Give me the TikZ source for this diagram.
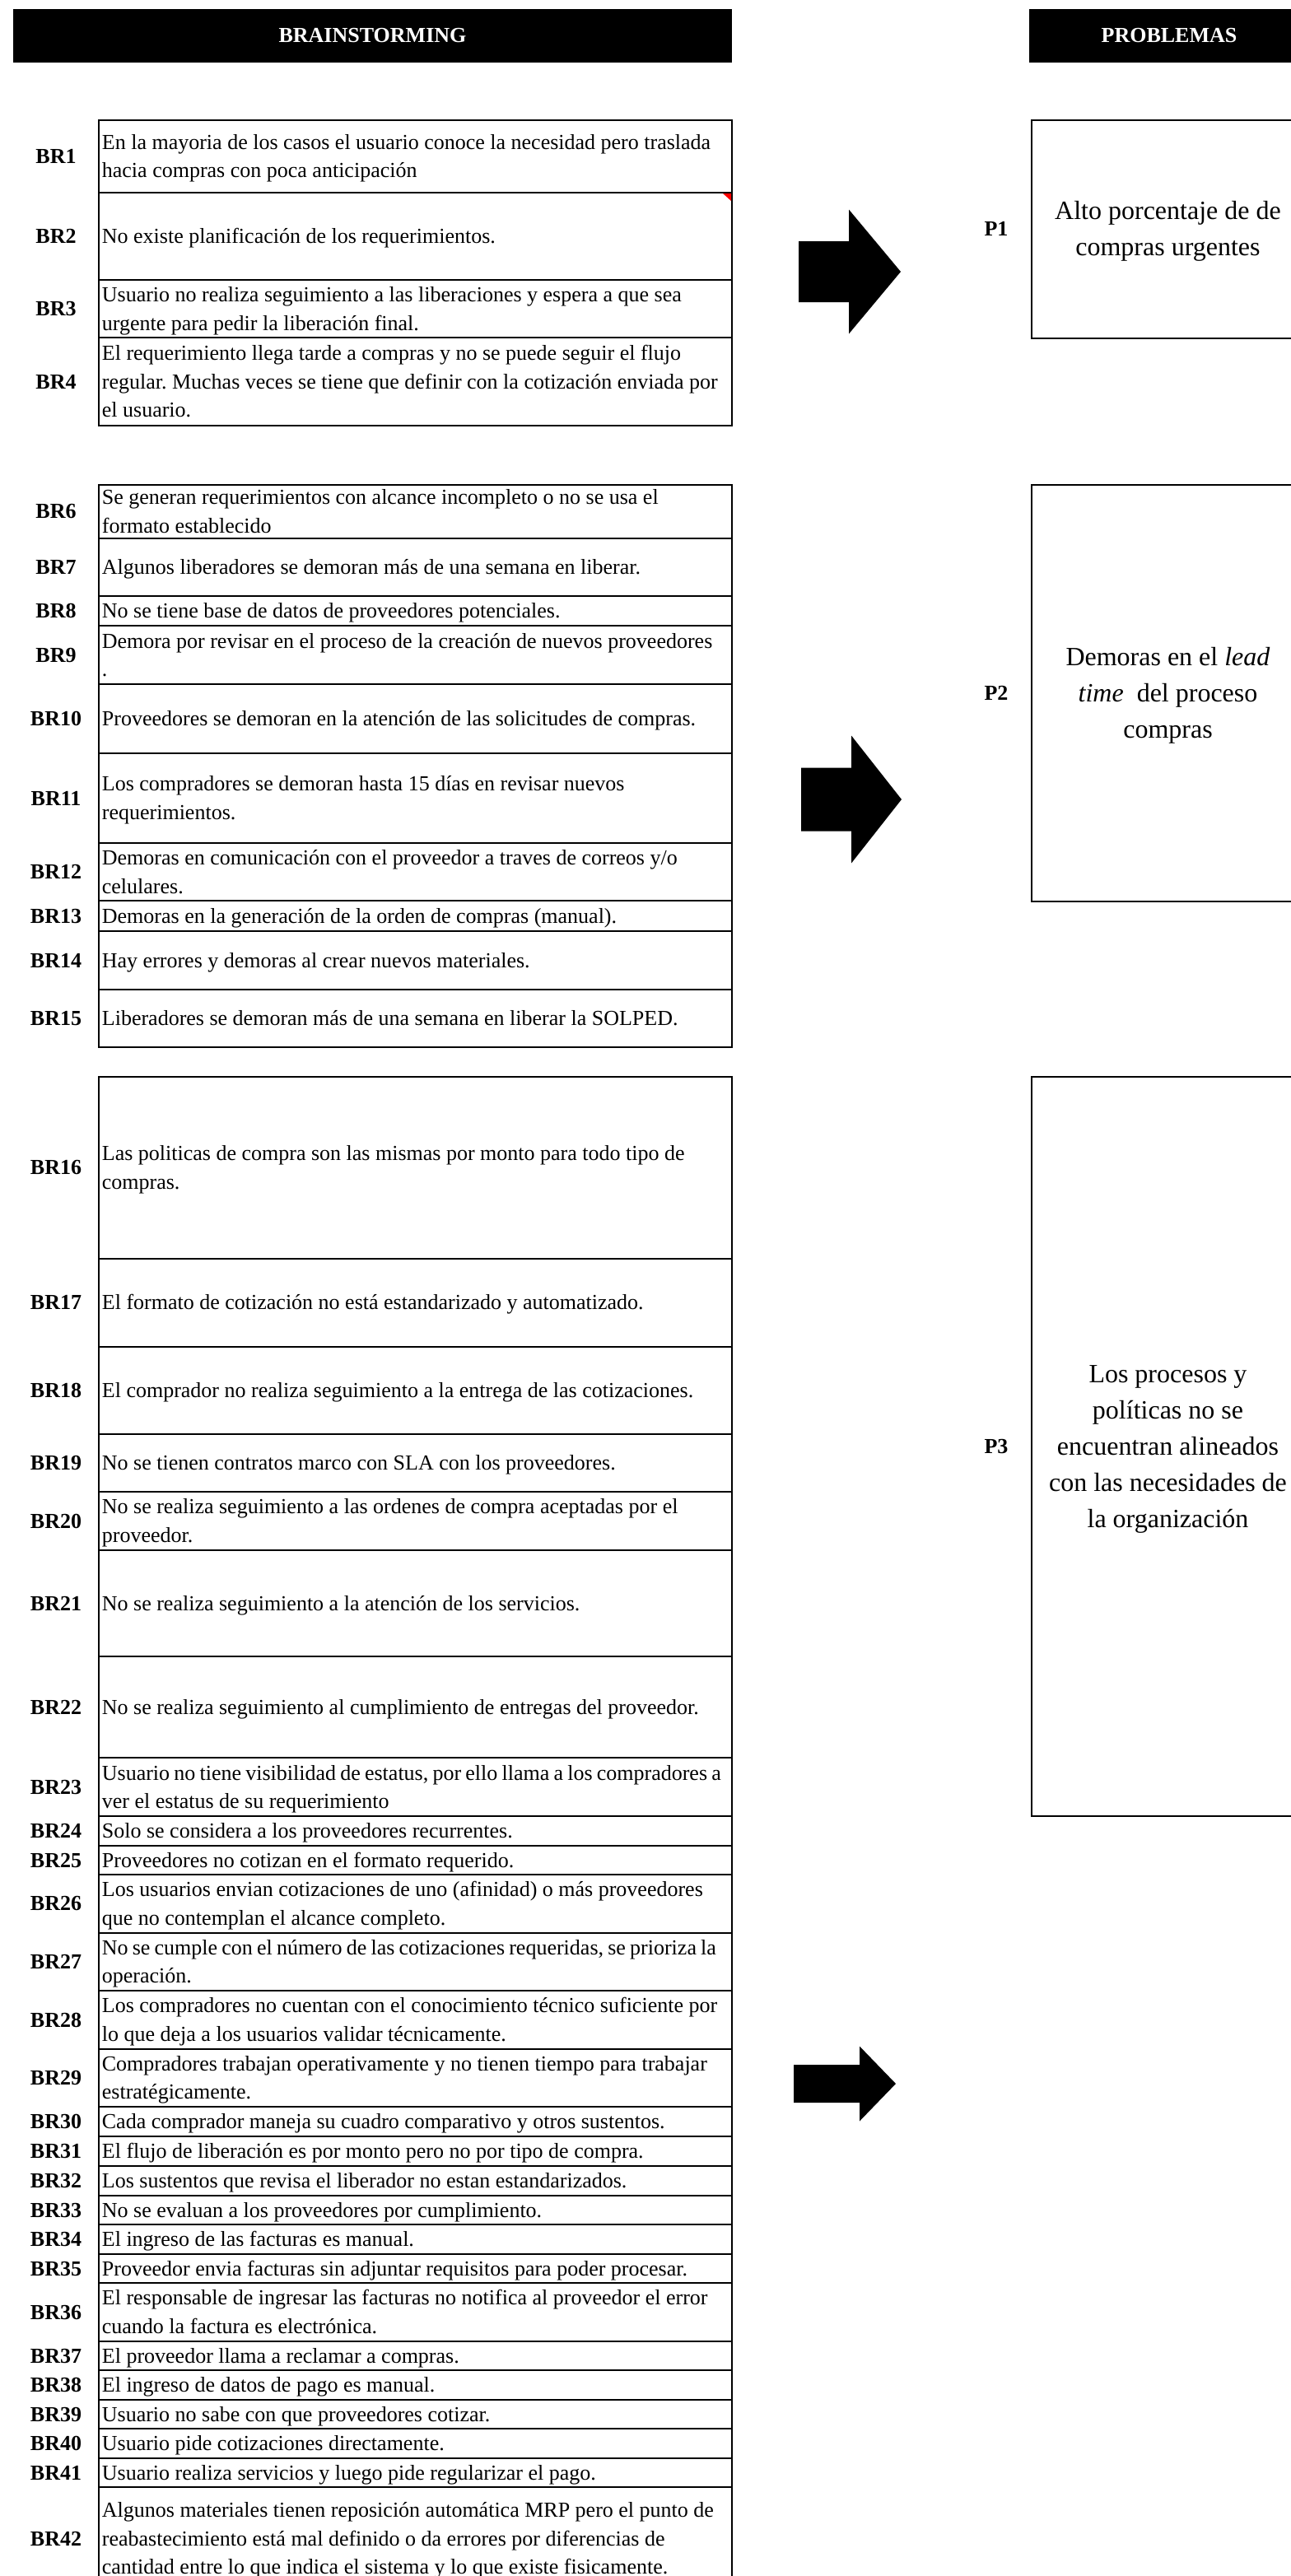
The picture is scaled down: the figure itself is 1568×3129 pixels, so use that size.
\documentclass[tikz,border=0pt]{standalone}
\usepackage{fontspec}
\setmainfont{Liberation Serif}
\frenchspacing
% struts giving every line the same ascent/descent
\newcommand{\cs}{\rule[-2.8pt]{0pt}{14.4pt}}
\newcommand{\ps}{\rule[-3.5pt]{0pt}{17.8pt}}
% tighter word spacing for one long line
\newcommand{\tightline}[1]{{\spaceskip=0.2em plus 0.05em\relax #1}}
% one brainstorming row: id, top, bottom, text
\newcommand{\brrow}[4]{%
  \node[brcell, minimum height={(#3-#2)*0.5pt}] (c#1) at (119.5,#2) {};
  \node[brtext] (t#1) at ([xshift=2pt]c#1.west) {\cs#4\cs};
  \node[brlabel] (l#1) at (68,{(#2+#3)/2}) {\cs BR#1\cs};
}
\begin{document}
\begin{tikzpicture}[x=0.5pt,y=-0.5pt,
  brcell/.style={draw, line width=1pt, anchor=north west, outer sep=0pt, inner sep=0pt, minimum width=384.5pt},
  brtext/.style={anchor=west, inner sep=0pt, align=left, font=\fontsize{13pt}{17.25pt}\selectfont},
  brlabel/.style={inner sep=0pt, font=\fontsize{13pt}{17.25pt}\selectfont\bfseries},
  headbar/.style={fill=black, text=white, inner sep=0pt, minimum height=32.5pt, font=\fontsize{13pt}{17.25pt}\selectfont\bfseries},
  pbox/.style={draw, line width=1pt, outer sep=0pt, inner sep=0pt, minimum width=165.5pt},
  ptext/.style={align=center, inner sep=0pt, font=\fontsize{16pt}{22pt}\selectfont},
  plabel/.style={inner sep=0pt, font=\fontsize{13pt}{17.25pt}\selectfont\bfseries},
  blockarrow/.style={fill=black}
]
\path[use as bounding box] (0,0) rectangle (1568,3129);
\clip (0,0) rectangle (1568,3129);
\fill[white] (0,0) rectangle (1568,3129);

% column headers
\node[headbar, minimum width=436.5pt] (hbrain) at (452.5,43.5) {BRAINSTORMING};
\node[headbar, minimum width=170pt] (hprob) at (1420,43.5) {PROBLEMAS};

% group 1
\brrow{1}{145.5}{234}{En la mayoria de los casos el usuario conoce la necesidad pero traslada\\hacia compras con poca anticipación}
\brrow{2}{234}{340}{No existe planificación de los requerimientos.}
\brrow{3}{340}{410}{Usuario no realiza seguimiento a las liberaciones y espera a que sea\\urgente para pedir la liberación final.}
\brrow{4}{410}{517}{El requerimiento llega tarde a compras y no se puede seguir el flujo\\regular. Muchas veces se tiene que definir con la cotización enviada por\\el usuario.}
% comment marker
\fill[red] (878,235) -- (888,235) -- (888,244) -- cycle;

% group 2
\brrow{6}{588.5}{653.5}{Se generan requerimientos con alcance incompleto o no se usa el\\formato establecido}
\brrow{7}{653.5}{724}{Algunos liberadores se demoran más de una semana en liberar.}
\brrow{8}{724}{760}{No se tiene base de datos de proveedores potenciales.}
\brrow{9}{760}{831}{Demora por revisar en el proceso de la creación de nuevos proveedores\\.}
\brrow{10}{831}{914.5}{Proveedores se demoran en la atención de las solicitudes de compras.}
\brrow{11}{914.5}{1024}{Los compradores se demoran hasta 15 días en revisar nuevos\\requerimientos.}
\brrow{12}{1024}{1094}{Demoras en comunicación con el proveedor a traves de correos y/o\\celulares.}
\brrow{13}{1094}{1131}{Demoras en la generación de la orden de compras (manual).}
\brrow{14}{1131}{1201.5}{Hay errores y demoras al crear nuevos materiales.}
\brrow{15}{1201.5}{1272}{Liberadores se demoran más de una semana en liberar la SOLPED.}

% group 3
\brrow{16}{1307.5}{1528.5}{Las politicas de compra son las mismas por monto para todo tipo de\\compras.}
\brrow{17}{1528.5}{1635.5}{El formato de cotización no está estandarizado y automatizado.}
\brrow{18}{1635.5}{1741.5}{El comprador no realiza seguimiento a la entrega de las cotizaciones.}
\brrow{19}{1741.5}{1812}{No se tienen contratos marco con SLA con los proveedores.}
\brrow{20}{1812}{1882.5}{No se realiza seguimiento a las ordenes de compra aceptadas por el\\proveedor.}
\brrow{21}{1882.5}{2012}{No se realiza seguimiento a la atención de los servicios.}
\brrow{22}{2012}{2135}{No se realiza seguimiento al cumplimiento de entregas del proveedor.}
\brrow{23}{2135}{2206}{\tightline{Usuario no tiene visibilidad de estatus, por ello llama a los compradores a}\\ver el estatus de su requerimiento}
\brrow{24}{2206}{2242}{Solo se considera a los proveedores recurrentes.}
\brrow{25}{2242}{2276.5}{Proveedores no cotizan en el formato requerido.}
\brrow{26}{2276.5}{2347.5}{Los usuarios envian cotizaciones de uno (afinidad) o más proveedores\\que no contemplan el alcance completo.}
\brrow{27}{2347.5}{2418}{\tightline{No se cumple con el número de las cotizaciones requeridas, se prioriza la}\\operación.}
\brrow{28}{2418}{2488.5}{Los compradores no cuentan con el conocimiento técnico suficiente por\\lo que deja a los usuarios validar técnicamente.}
\brrow{29}{2488.5}{2559}{Compradores trabajan operativamente y no tienen tiempo para trabajar\\estratégicamente.}
\brrow{30}{2559}{2594.5}{Cada comprador maneja su cuadro comparativo y otros sustentos.}
\brrow{31}{2594.5}{2630.5}{El flujo de liberación es por monto pero no por tipo de compra.}
\brrow{32}{2630.5}{2666.5}{Los sustentos que revisa el liberador no estan estandarizados.}
\brrow{33}{2666.5}{2702}{No se evaluan a los proveedores por cumplimiento.}
\brrow{34}{2702}{2738}{El ingreso de las facturas es manual.}
\brrow{35}{2738}{2773}{Proveedor envia facturas sin adjuntar requisitos para poder procesar.}
\brrow{36}{2773}{2843.5}{El responsable de ingresar las facturas no notifica al proveedor el error\\cuando la factura es electrónica.}
\brrow{37}{2843.5}{2879}{El proveedor llama a reclamar a compras.}
\brrow{38}{2879}{2914.5}{El ingreso de datos de pago es manual.}
\brrow{39}{2914.5}{2950}{Usuario no sabe con que proveedores cotizar.}
\brrow{40}{2950}{2985.5}{Usuario pide cotizaciones directamente.}
\brrow{41}{2985.5}{3021}{Usuario realiza servicios y luego pide regularizar el pago.}
\brrow{42}{3021}{3146}{Algunos materiales tienen reposición automática MRP pero el punto de\\reabastecimiento está mal definido o da errores por diferencias de\\cantidad entre lo que indica el sistema y lo que existe fisicamente.}

% block arrows
\fill[blockarrow] (970,293) -- (1031,293) -- (1031,254.5) -- (1094,330) -- (1031,405.5) -- (1031,367) -- (970,367) -- cycle;
\fill[blockarrow] (973,932.5) -- (1034,932.5) -- (1034,893.5) -- (1095,971) -- (1034,1048.5) -- (1034,1009.5) -- (973,1009.5) -- cycle;
\fill[blockarrow] (964,2508) -- (1044,2508) -- (1044,2485.5) -- (1088,2531) -- (1044,2576.5) -- (1044,2554) -- (964,2554) -- cycle;

% problems
\node[pbox, minimum height=132.5pt] (p1) at (1418.5,278) {};
\node[ptext] (p1t) at (p1.center) {\ps Alto porcentaje de de\\compras urgentes\ps};
\node[plabel] (p1l) at (1210,278) {\cs P1\cs};

\node[pbox, minimum height=253.25pt] (p2) at (1418.5,841.75) {};
\node[ptext] (p2t) at (p2.center) {\ps Demoras en el \textit{lead}\\\textit{time}\ \ del proceso\\compras\ps};
\node[plabel] (p2l) at (1210,841.75) {\cs P2\cs};

\node[pbox, minimum height=449pt] (p3) at (1418.5,1756.5) {};
\node[ptext] (p3t) at (p3.center) {\ps Los procesos y\\políticas no se\\encuentran alineados\\con las necesidades de\\la organización\ps};
\node[plabel] (p3l) at (1210,1756.5) {\cs P3\cs};
\end{tikzpicture}
\end{document}
